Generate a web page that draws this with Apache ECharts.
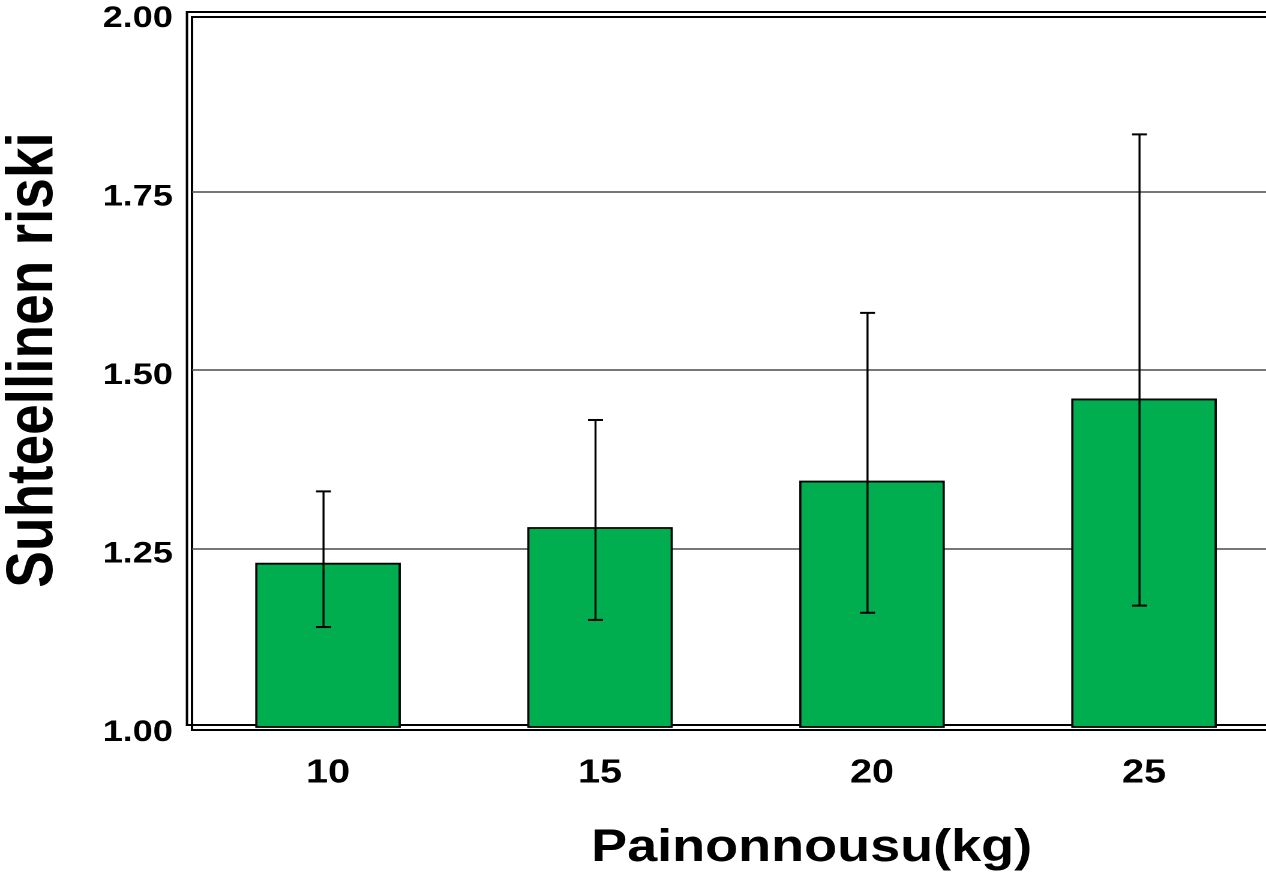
<!DOCTYPE html>
<html>
<head>
<meta charset="utf-8">
<script src="https://cdn.jsdelivr.net/npm/echarts@6/dist/echarts.min.js"></script>
<style>
  html, body { margin: 0; padding: 0; background: #fff; overflow: hidden; }
  #wrap { width: 1266px; height: 882px; overflow: hidden; }
  /* the chart is laid out narrower and widened horizontally so the bold type gets its broad look */
  #chart { width: 1055px; height: 882px; transform: scaleX(1.2); transform-origin: 0 0; }
</style>
</head>
<body>
<div id="wrap"><div id="chart"></div></div>
<script>
// Weight gain categories (kg) and relative risk with 95% confidence limits
const categories = ['10', '15', '20', '25'];
const relativeRisk = [1.23, 1.28, 1.345, 1.46];
const ciLower = [1.14, 1.15, 1.16, 1.17];
const ciUpper = [1.33, 1.43, 1.58, 1.83];
const yTickLabels = ['1.00', '1.25', '1.50', '1.75', '2.00'];

const FONT = '"Liberation Sans", Arial, Helvetica, sans-serif';
const BAR_GREEN = '#00ae4f';

const chart = echarts.init(document.getElementById('chart'), null, { renderer: 'canvas', devicePixelRatio: 2 });

const errorData = categories.map((c, i) => [i, ciLower[i], ciUpper[i]]);

const option = {
  backgroundColor: '#ffffff',
  animation: false,
  grid: [
    // plotting area
    { left: 160, top: 13, width: 906.67, bottom: 155, containLabel: false, outerBoundsMode: 'none' },
    // double frame: outer and offset inner rectangle
    { left: 155.8, top: 12, right: -30, bottom: 157, show: true, borderColor: '#000', borderWidth: 2,
      backgroundColor: 'transparent', z: 0, outerBoundsMode: 'none' },
    { left: 160, top: 17, right: -30, bottom: 152, show: true, borderColor: '#000', borderWidth: 2,
      backgroundColor: 'transparent', z: 0, outerBoundsMode: 'none' }
  ],
  xAxis: [
    {
      gridIndex: 0,
      type: 'category',
      data: categories,
      axisLine: { show: false },
      axisTick: { show: false },
      axisLabel: { color: '#000', fontFamily: FONT, fontWeight: 'bold', fontSize: 33, margin: 30 },
      name: 'Painonnousu(kg)',
      nameLocation: 'middle',
      nameGap: 99,
      nameTextStyle: { color: '#000', fontFamily: FONT, fontWeight: 'bold', fontSize: 45, padding: [0, 0, 0, 126] }
    },
    { gridIndex: 1, type: 'value', show: false },
    { gridIndex: 2, type: 'value', show: false }
  ],
  yAxis: [
    {
      gridIndex: 0,
      type: 'value',
      min: 1,
      max: 2,
      interval: 0.25,
      axisLine: { show: false },
      axisTick: { show: false },
      axisLabel: {
        color: '#000', fontFamily: FONT, fontWeight: 'bold', fontSize: 30, margin: 16,
        verticalAlign: 'top', lineHeight: 11,
        formatter: v => yTickLabels[Math.round((v - 1) / 0.25)]
      },
      splitLine: { show: true, showMinLine: false, showMaxLine: false, lineStyle: { color: '#4a4a4a', width: 1.5 } },
      name: 'Suhteellinen riski',
      nameLocation: 'middle',
      nameGap: 104,
      nameTextStyle: { color: '#000', fontFamily: FONT, fontWeight: 'bold', fontSize: 55, padding: [0, 0, 0, 20] }
    },
    { gridIndex: 1, type: 'value', show: false },
    { gridIndex: 2, type: 'value', show: false }
  ],
  series: [
    {
      type: 'bar',
      xAxisIndex: 0,
      yAxisIndex: 0,
      data: relativeRisk,
      barWidth: '53.5%',
      clip: true,
      itemStyle: { color: BAR_GREEN, borderColor: '#000', borderWidth: 1.8 },
      z: 2
    },
    {
      type: 'custom',
      xAxisIndex: 0,
      yAxisIndex: 0,
      data: errorData,
      z: 5,
      renderItem: function (params, api) {
        const i = api.value(0);
        const lo = api.coord([i, api.value(1)]);
        const hi = api.coord([i, api.value(2)]);
        const x = lo[0] - 3.75;
        const cap = 6.25;
        const style = { stroke: '#000', lineWidth: 1.7 };
        const capStyle = { stroke: '#000', lineWidth: 2 };
        return {
          type: 'group',
          children: [
            { type: 'line', shape: { x1: x, y1: hi[1], x2: x, y2: lo[1] }, style: style },
            { type: 'line', shape: { x1: x - cap, y1: hi[1], x2: x + cap, y2: hi[1] }, style: capStyle },
            { type: 'line', shape: { x1: x - cap, y1: lo[1], x2: x + cap, y2: lo[1] }, style: capStyle }
          ]
        };
      }
    }
  ]
};

chart.setOption(option);
</script>
</body>
</html>
